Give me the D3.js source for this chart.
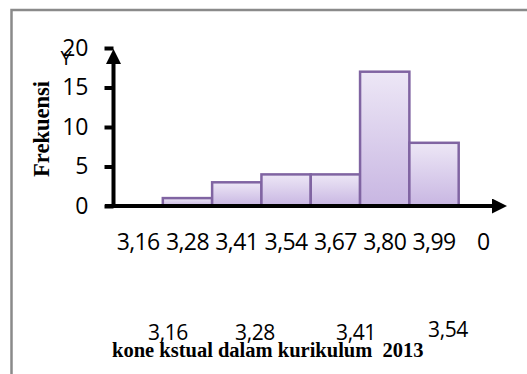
<!DOCTYPE html>
<html>
<head>
<meta charset="utf-8">
<script src="https://cdn.jsdelivr.net/npm/d3@7"></script>
<style>
  body { margin: 0; background: #fff; }
  text { white-space: pre; }
</style>
</head>
<body>
<div id="chart"></div>
<script>
// data
const categories = ["3,16", "3,28", "3,41", "3,54", "3,67", "3,80", "3,99", "0"];
const frekuensi = [0, 1, 3, 4, 4, 17, 8, 0];
const yTicks = [0, 5, 10, 15, 20];
const strayLabels = ["3,16", "3,28", "3,41", "3,54"];
const strayTitle = "kone kstual dalam kurikulum  2013";

const W = 527, H = 374;
const svg = d3.select("#chart").append("svg")
    .attr("width", W)
    .attr("height", H);

// frame
svg.append("rect")
    .attr("x", 11.5).attr("y", 10)
    .attr("width", 600).attr("height", 400)
    .attr("fill", "none")
    .attr("stroke", "#8a8a8a")
    .attr("stroke-width", 2.5);

const defs = svg.append("defs");
const grad = defs.append("linearGradient")
    .attr("id", "barFill")
    .attr("x1", 0).attr("y1", 0).attr("x2", 0).attr("y2", 1);
grad.append("stop").attr("offset", "0%").attr("stop-color", "#ede7f6");
grad.append("stop").attr("offset", "100%").attr("stop-color", "#c8b6e2");

defs.append("marker")
    .attr("id", "arrow")
    .attr("viewBox", "0 0 10 10")
    .attr("refX", 0).attr("refY", 5)
    .attr("markerUnits", "userSpaceOnUse")
    .attr("markerWidth", 16).attr("markerHeight", 15)
    .attr("orient", "auto")
  .append("path")
    .attr("d", "M0,0 L10,5 L0,10 Z")
    .attr("fill", "#000");

const x = d3.scaleBand()
    .domain(categories)
    .range([113.5, 508])
    .padding(0);

const y = d3.scaleLinear()
    .domain([0, 20])
    .range([206, 48]);

// bars
const bars = categories.map((c, i) => ({ cat: c, val: frekuensi[i] }))
    .filter(d => d.val > 0);

svg.append("g")
  .selectAll("rect")
  .data(bars)
  .join("rect")
    .attr("x", d => x(d.cat))
    .attr("y", d => y(d.val))
    .attr("width", x.bandwidth())
    .attr("height", d => y(0) - y(d.val))
    .attr("fill", "url(#barFill)")
    .attr("stroke", "#8064a2")
    .attr("stroke-width", 2.5);

// x axis labels
const xAxis = svg.append("g")
    .attr("transform", `translate(0,${y(0)})`)
    .call(d3.axisBottom(x).tickSize(0).tickPadding(28));
xAxis.select(".domain").remove();
xAxis.selectAll("text")
    .attr("font-family", "Open Sans, sans-serif")
    .attr("font-size", 23)
    .attr("letter-spacing", -0.6)
    .attr("fill", "#000");

// y axis
const yAxis = svg.append("g")
    .attr("transform", `translate(${x.range()[0]},0)`)
    .call(d3.axisLeft(y).tickValues(yTicks).tickSize(9).tickPadding(16));
yAxis.select(".domain").remove();
yAxis.selectAll("line")
    .attr("stroke", "#000")
    .attr("stroke-width", 4);
yAxis.selectAll("text")
    .attr("font-family", "Open Sans, sans-serif")
    .attr("font-size", 23)
    .attr("fill", "#000");

// axis lines with arrows
svg.append("line")
    .attr("x1", 105).attr("x2", 492)
    .attr("y1", y(0)).attr("y2", y(0))
    .attr("stroke", "#000").attr("stroke-width", 4)
    .attr("marker-end", "url(#arrow)");
svg.append("line")
    .attr("x1", x.range()[0]).attr("x2", x.range()[0])
    .attr("y1", y(0) + 2).attr("y2", 64)
    .attr("stroke", "#000").attr("stroke-width", 4)
    .attr("marker-end", "url(#arrow)");

// axis titles
svg.append("text")
    .attr("x", 66).attr("y", 65)
    .attr("text-anchor", "middle")
    .attr("font-family", "Open Sans, sans-serif")
    .attr("font-size", 20)
    .text("Y");

svg.append("text")
    .attr("transform", "translate(49,129) rotate(-90)")
    .attr("text-anchor", "middle")
    .attr("font-family", "Liberation Serif, serif")
    .attr("font-weight", "bold")
    .attr("font-size", 22.5)
    .text("Frekuensi");

// stray labels at the bottom
const strayX = [168, 255, 356, 448];
const strayY = [340, 340, 340, 337];
svg.append("g")
  .selectAll("text")
  .data(strayLabels)
  .join("text")
    .attr("x", (d, i) => strayX[i])
    .attr("y", (d, i) => strayY[i])
    .attr("text-anchor", "middle")
    .attr("font-family", "Open Sans, sans-serif")
    .attr("font-size", 21)
    .attr("letter-spacing", -0.4)
    .text(d => d);

svg.append("text")
    .attr("x", 112).attr("y", 357)
    .attr("font-family", "Liberation Serif, serif")
    .attr("font-weight", "bold")
    .attr("font-size", 20.5)
    .text(strayTitle);
</script>
</body>
</html>
